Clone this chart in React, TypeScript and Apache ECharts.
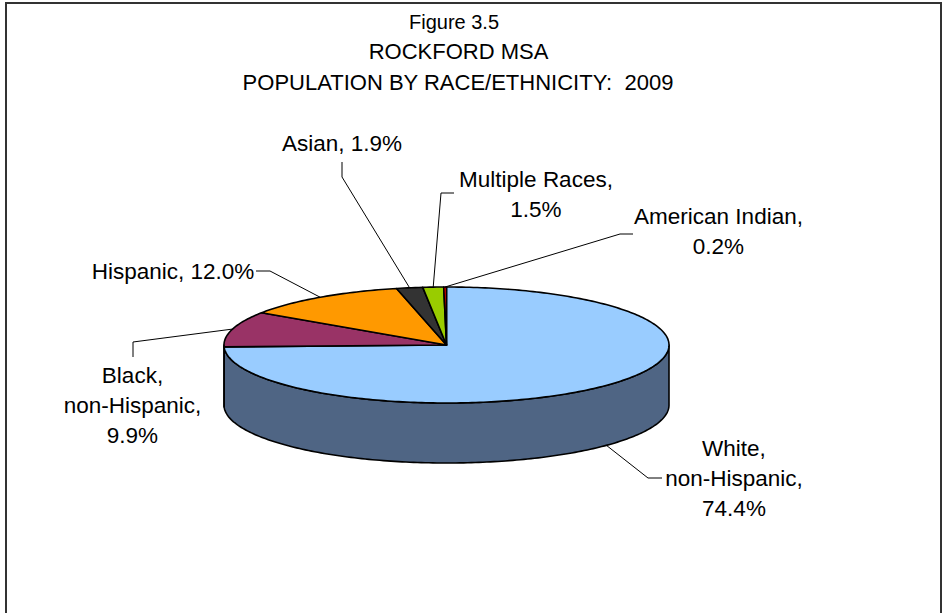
import React, { useEffect, useRef } from "react";
import * as echarts from "echarts";

const categories = [
  "White, non-Hispanic",
  "Black, non-Hispanic",
  "Hispanic",
  "Asian",
  "Multiple Races",
  "American Indian",
];
const values = [74.4, 9.9, 12.0, 1.9, 1.5, 0.2];
// label formatting style: "stack" = every comma part on its own line, "inline" = one line, "two" = name then value
const labelStyles = ["stack", "stack", "inline", "inline", "two", "two"];

const titleLines = ["Figure 3.5", "ROCKFORD MSA", "POPULATION BY RACE/ETHNICITY:  2009"];

const topColors = ["#99CCFF", "#993366", "#FF9900", "#333333", "#99CC00", "#FF0000"];
const sideColors = ["#4F6584", "#5C1F3D", "#995C00", "#1F1F1F", "#5C7A00", "#990000"];

// layout of labels: text centre and leader elbow / end
const labelLayout = [
  { tx: 734, ty: 478, elbow: [648, 478], end: [662, 478], bottom: true },
  { tx: 132.5, ty: 405, elbow: [133, 342], end: [133, 357], bottom: false },
  { tx: 173, ty: 271, elbow: [270, 271], end: [256, 271], bottom: false },
  { tx: 342, ty: 143, elbow: [342, 177], end: [342, 162], bottom: false },
  { tx: 536, ty: 194, elbow: [441, 193], end: [454, 193], bottom: false },
  { tx: 718.5, ty: 231, elbow: [620, 234], end: [633, 234], bottom: false },
];
const titleLayout = [
  { x: 454, y: 22, size: 20 },
  { x: 458.5, y: 51, size: 22 },
  { x: 458, y: 82, size: 22 },
];

const CX = 446.5;
const CY = 345;
const RX = 222.5;
const RY = 58;
const DEPTH = 60;
const FONT = "'Liberation Sans', Arial, sans-serif";

function formatLabel(i: number): string {
  const v = values[i].toFixed(1) + "%";
  const name = categories[i];
  const s = labelStyles[i];
  if (s === "stack") return name.replace(/, /g, ",\n") + ",\n" + v;
  if (s === "two") return name + ",\n" + v;
  return name + ", " + v;
}

export default function App() {
  const ref = useRef<HTMLDivElement>(null);
  useEffect(() => {
    if (!ref.current) return;
    const chart = echarts.init(ref.current, undefined, { renderer: "svg" });
    const total = values.reduce((a, b) => a + b, 0);
    const starts: number[] = [];
    let acc = 0;
    values.forEach((v) => {
      starts.push(acc);
      acc += v;
    });

    const pt = (deg: number, dy = 0): number[] => {
      const r = (deg * Math.PI) / 180;
      return [CX + RX * Math.sin(r), CY - RY * Math.cos(r) + dy];
    };
    const arc = (a: number, b: number, dy = 0): number[][] => {
      const pts: number[][] = [];
      const n = Math.max(2, Math.ceil(Math.abs(b - a) / 1) + 1);
      for (let k = 0; k < n; k++) pts.push(pt(a + ((b - a) * k) / (n - 1), dy));
      return pts;
    };

    const renderItem = (params: any, api: any) => {
      const i = params.dataIndex;
      const v = api.value(0);
      const a = (starts[i] / total) * 360;
      const b = a + (v / total) * 360;
      const children: any[] = [];
      const lo = Math.max(a, 90);
      const hi = Math.min(b, 270);
      if (lo < hi) {
        const pts = arc(lo, hi, 0).concat(arc(hi, lo, DEPTH));
        children.push({
          type: "polygon",
          shape: { points: pts },
          style: { fill: sideColors[i], stroke: "#000", lineWidth: 1.6, lineJoin: "round" },
        });
      }
      children.push({
        type: "polygon",
        shape: { points: [[CX, CY]].concat(arc(a, b, 0)) },
        style: { fill: topColors[i], stroke: "#000", lineWidth: 1.6, lineJoin: "round" },
      });
      const mid = (a + b) / 2;
      const L = labelLayout[i];
      const anchor = pt(mid, L.bottom ? DEPTH : 0);
      children.push({
        type: "polyline",
        shape: { points: [anchor, L.elbow, L.end] },
        style: { stroke: "#000", lineWidth: 1, fill: null },
      });
      children.push({
        type: "text",
        style: {
          text: formatLabel(i),
          x: L.tx,
          y: L.ty,
          align: "center",
          verticalAlign: "middle",
          fontSize: 22.5,
          lineHeight: 30,
          fontFamily: FONT,
          fill: "#000",
        },
      });
      return { type: "group", children };
    };

    chart.setOption({
      animation: false,
      backgroundColor: "#fff",
      graphic: [
        {
          type: "rect",
          shape: { x: 6, y: 3, width: 935, height: 640 },
          style: { fill: "none", stroke: "#333", lineWidth: 2 },
          silent: true,
        },
        ...titleLines.map((t, k) => ({
          type: "text",
          silent: true,
          style: {
            text: t,
            x: titleLayout[k].x,
            y: titleLayout[k].y,
            align: "center",
            verticalAlign: "middle",
            fontSize: titleLayout[k].size,
            fontFamily: FONT,
            fill: "#000",
          },
        })),
      ],
      series: [
        {
          type: "custom",
          coordinateSystem: "none",
          data: values.map((v, i) => ({ name: categories[i], value: [v] })),
          renderItem,
        },
      ],
    });
    return () => chart.dispose();
  }, []);
  return (
    <div
      ref={ref}
      style={{ position: "absolute", left: 0, top: 0, width: 943, height: 613 }}
    />
  );
}
